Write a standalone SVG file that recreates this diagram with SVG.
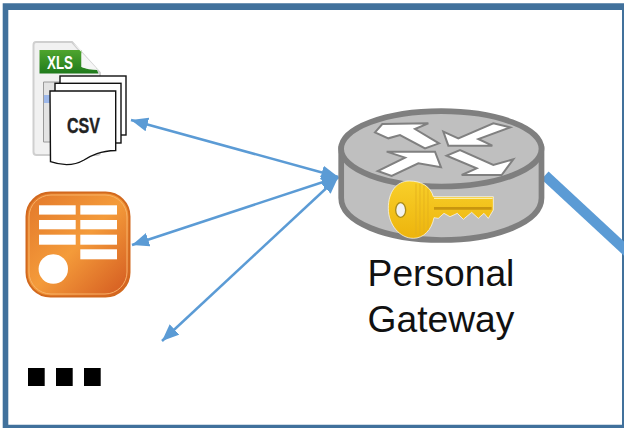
<svg xmlns="http://www.w3.org/2000/svg" width="624" height="428" viewBox="0 0 624 428">
<defs>
<marker id="ah" markerUnits="userSpaceOnUse" markerWidth="18" markerHeight="15" refX="17" refY="7.500" orient="auto-start-reverse"><path d="M0 0.500L17 7.500L0 14.500Z" fill="#5B9BD5"/></marker>
<linearGradient id="og" x1="0" y1="0" x2="1" y2="1"><stop offset="0" stop-color="#E2772A"/><stop offset=".5" stop-color="#F49B3A"/><stop offset="1" stop-color="#D2571F"/></linearGradient>
<linearGradient id="gold" x1="0" y1="0" x2="0" y2="1"><stop offset="0" stop-color="#F8CF2A"/><stop offset="1" stop-color="#EDB40C"/></linearGradient>
<linearGradient id="green" x1="0" y1="0" x2="0" y2="1"><stop offset="0" stop-color="#4FA52E"/><stop offset="1" stop-color="#1F7A1C"/></linearGradient>
</defs>
<style>
.bar{fill:#fff}
.page{fill:#fff;stroke:#111;stroke-width:1.4}
.arw{fill:#fff;stroke:#808080;stroke-width:6;stroke-linejoin:miter}
.lbl{font-family:"Liberation Sans",Arial,sans-serif;font-size:37.2px;fill:#111;text-anchor:middle}
.ln{fill:none;stroke:#5B9BD5;stroke-width:2.500;marker-start:url(#ah);marker-end:url(#ah)}
</style>
<path id="frame" fill-rule="evenodd" fill="#41719C" d="M2.700 3.300H624V428H2.700ZM8.300 10V424.700H622V10Z"/>
<g id="xls-csv">
<path d="M36 42Q33.500 42 33.500 45V152Q33.500 155 36.500 155H97Q100 155 100 152V73L72 42Z" fill="#f1f1f1" stroke="#cfcfcf" stroke-width="2"/>
<path d="M39.500 50H81.500V67Q90 70 96 68L98.500 73.500H39.500Z" fill="url(#green)"/>
<path d="M73 43L98 70Q88 70 81.500 67V50Z" fill="#f6f6f6"/>
<path d="M43.500 82H98V142H43.500Z" fill="#e3e3e3" stroke="#9a9a9a"/>
<rect x="44" y="95" width="6" height="8" fill="#9db8ea"/>
<text x="60" y="69.300" font-family="'Liberation Sans',sans-serif" font-weight="700" font-size="17.700" fill="#fff" text-anchor="middle" textLength="26" lengthAdjust="spacingAndGlyphs">XLS</text>
<rect class="page" x="60" y="76" width="66" height="59"/>
<rect class="page" x="55" y="83.300" width="66" height="59.700"/>
<path class="page" d="M50 91H115.700V150.500C100 151 92 155 84 160C72 167 60 165 50.500 161.700Z"/>
<text x="83.500" y="133.300" font-family="'Liberation Sans',sans-serif" font-weight="700" font-size="21.500" fill="#222" stroke="#222" stroke-width=".4" text-anchor="middle" textLength="33" lengthAdjust="spacingAndGlyphs">CSV</text>
</g>
<g id="orange-app">
<rect x="26.500" y="192.500" width="103" height="104" rx="24" fill="url(#og)" stroke="#D2691E" stroke-width="2"/>
<rect x="29" y="195" width="98" height="99" rx="22" fill="none" stroke="#F7B267" stroke-width="1"/>
<rect class="bar" x="39" y="205.300" width="36.700" height="9.300"/><rect class="bar" x="80.300" y="205.300" width="36.700" height="9.300"/>
<rect class="bar" x="39" y="220" width="36.700" height="9.300"/><rect class="bar" x="80.300" y="220" width="36.700" height="9.300"/>
<rect class="bar" x="39" y="234.700" width="36.700" height="10"/><rect class="bar" x="80.300" y="234.700" width="36.700" height="10"/>
<rect class="bar" x="80.300" y="249.300" width="36.700" height="10"/>
<circle cx="53.300" cy="269" r="14.700" fill="#fff"/>
</g>
<g id="more">
<rect x="28" y="368" width="16.700" height="18"/><rect x="56" y="368" width="16.700" height="18"/><rect x="84" y="368" width="16.700" height="18"/>
</g>
<g id="connectors">
<line class="ln" x1="338.300" y1="177" x2="131" y2="120"/>
<line class="ln" x1="338.300" y1="177" x2="132" y2="245"/>
<line class="ln" x1="338.300" y1="177" x2="162" y2="341"/>
<line x1="545" y1="175.300" x2="632" y2="256" stroke="#5B9BD5" stroke-width="10.500"/>
</g>
<g id="gateway">
<path d="M341.200 149V198C341.200 222 386 240 441.300 240S541.500 222 541.500 198V149Z" fill="#bfbfbf" stroke="#7f7f7f" stroke-width="5.700"/>
<ellipse cx="441.300" cy="148.800" rx="100.200" ry="37.700" fill="#bfbfbf" stroke="#7f7f7f" stroke-width="5.700"/>
<g transform="translate(365 115) scale(.3333)">
<path class="arw" d="M30 52L52 27L190 25L150 42L222 85L180 100L105 60L70 70Z"/>
<path class="arw" d="M235 50L250 92L382 92L340 72L435 37L385 25L280 70Z"/>
<path class="arw" d="M38 168L80 183L160 145L228 157L210 110L65 110L120 128Z"/>
<path class="arw" d="M245 122L285 105L385 150L445 133L410 180L290 180L335 160Z"/>
</g>
<g transform="translate(380 175) scale(.3333)">
<path d="M160 65H340V105L325 130L312 115L295 130L275 112L250 133L232 115L210 125L192 115L175 130L162 128C155 165 130 190 100 190C60 190 25 150 25 100C25 50 50 18 88 18C125 18 152 35 160 65Z" fill="url(#gold)" stroke="#fff" stroke-width="2"/>
<path d="M162 100H335" stroke="#C8950F" stroke-width="8" fill="none"/>
<path d="M162 70H338" stroke="#FBEFA8" stroke-width="4" fill="none"/>
<path d="M108 26V180M120 26V182M132 32V176M144 42V164" stroke="#E3B01E" stroke-width="2.500" fill="none"/>
<ellipse cx="62" cy="105" rx="15" ry="22" fill="#f2f2f2" stroke="#A88A1A" stroke-width="4"/>
</g>
</g>
<g id="label">
<text class="lbl" x="441" y="286">Personal</text>
<text class="lbl" x="441" y="331.500">Gateway</text>
</g>
</svg>
